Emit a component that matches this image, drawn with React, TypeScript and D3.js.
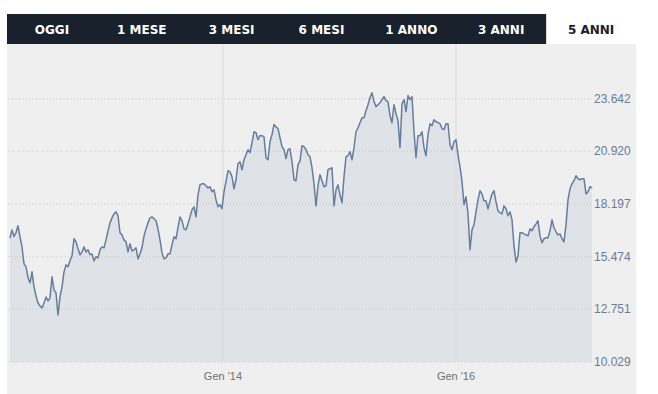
import React from "react";
import * as d3 from "d3";

// period tabs above the chart
const tabs = ["OGGI", "1 MESE", "3 MESI", "6 MESI", "1 ANNO", "3 ANNI", "5 ANNI"];
const activeTab = "5 ANNI";

// closing values, sampled at regular intervals between the two dates
const startDate = "2012-03-05";
const endDate = "2017-03-02";
const closes = [
  16430, 16860, 16520, 16710, 17070, 16500, 15980, 15100, 14960, 14380,
  14120, 14690, 13910, 13450, 13080, 12930, 12820, 13080, 13390, 13190,
  13340, 14430, 13760, 13600, 12460, 13390, 13910, 14690, 15050, 14950,
  15260, 15520, 16400, 16240, 15880, 15570, 15720, 15980, 15720, 15830,
  15570, 15620, 15260, 15470, 15410, 15830, 15980, 15930, 16340, 16810,
  17220, 17480, 17690, 17790, 17590, 16710, 16600, 16340, 16240, 15720,
  16140, 15770, 15830, 15930, 15360, 15620, 15930, 16550, 16910, 17220,
  17480, 17530, 17430, 17330, 16910, 16340, 15670, 15360, 15410, 15620,
  15620, 16090, 16500, 16400, 16970, 17530, 17330, 16910, 16860, 17170,
  17530, 17900, 18050, 17530, 18670, 19190, 19240, 19240, 19140, 19030,
  19090, 18830, 18930, 18410, 18050, 18160, 17950, 18830, 19350, 19920,
  19860, 19600, 18980, 19450, 20280, 20380, 19970, 20480, 20740, 21000,
  20850, 21370, 21930, 21880, 21520, 21730, 21730, 21670, 20590, 20480,
  21420, 21780, 22300, 22190, 22090, 21620, 21160, 21000, 20540, 21000,
  21050, 20380, 19450, 19400, 20230, 20430, 21210, 21160, 21000, 20740,
  20640, 20070, 19240, 18100, 19140, 19710, 19400, 19090, 19140, 19970,
  20020, 20070, 18100, 18930, 19190, 18670, 18260, 19600, 20640, 20690,
  20900, 20480, 21110, 21930, 22140, 22400, 22660, 22660, 23020, 23330,
  23690, 23950, 23490, 23230, 23330, 23430, 23590, 23750, 23540, 23490,
  22760, 22400, 23330, 22870, 22500, 21110, 23380, 23590, 22970, 23800,
  23590, 23750, 21930, 20590, 21730, 21730, 21930, 21110, 20690, 21780,
  22350, 22240, 22550, 22450, 22400, 22350, 22090, 22040, 22350, 22350,
  21260, 21000, 21420, 21520, 20740, 20120, 19350, 18160, 18570, 17690,
  15830, 16860, 17120, 17790, 18410, 18880, 18720, 18360, 18360, 17950,
  18360, 18720, 18880, 18310, 17840, 17740, 17690, 18100, 17950, 17590,
  17790, 17380, 16030, 15200, 15520, 16710, 16710, 16650, 16600, 16550,
  16910, 16810, 17020, 17170, 17330, 16550, 16190, 16400, 16450, 16450,
  16810, 17380, 16970, 16760, 16600, 16650, 16400, 16240, 17120, 18410,
  18980, 19240, 19400, 19660, 19500, 19450, 19500, 19500, 18720, 18830,
  19090, 19030,
];

const yTicks = [10029, 12751, 15474, 18197, 20920, 23642];
const xTicks = ["2014-01-01", "2016-01-01"];

const itNumber = d3.formatLocale({
  decimal: ",",
  thousands: ".",
  grouping: [3],
  currency: ["€", ""],
});
const itTime = d3.timeFormatLocale({
  dateTime: "%A %e %B %Y, %X",
  date: "%d/%m/%Y",
  time: "%H:%M:%S",
  periods: ["AM", "PM"],
  days: ["Domenica", "Lunedì", "Martedì", "Mercoledì", "Giovedì", "Venerdì", "Sabato"],
  shortDays: ["Dom", "Lun", "Mar", "Mer", "Gio", "Ven", "Sab"],
  months: ["Gennaio", "Febbraio", "Marzo", "Aprile", "Maggio", "Giugno", "Luglio", "Agosto", "Settembre", "Ottobre", "Novembre", "Dicembre"],
  shortMonths: ["Gen", "Feb", "Mar", "Apr", "Mag", "Giu", "Lug", "Ago", "Set", "Ott", "Nov", "Dic"],
});

const W = 658;
const H = 394;
const box = { left: 7, right: 636, tabTop: 14, tabBottom: 44 };
const plot = { left: 10, right: 592, top: 46, bottom: 362 };

export default function App() {
  const parse = d3.utcParse("%Y-%m-%d");
  const t0 = parse(startDate)!.getTime();
  const t1 = parse(endDate)!.getTime();
  const data = closes.map((v, i) => ({
    date: new Date(t0 + (i * (t1 - t0)) / (closes.length - 1)),
    value: v,
  }));

  const x = d3.scaleUtc().domain([new Date(t0), new Date(t1)]).range([plot.left, plot.right]);
  const step = yTicks[yTicks.length - 1] - yTicks[yTicks.length - 2];
  const y = d3
    .scaleLinear()
    .domain([yTicks[0], yTicks[yTicks.length - 1] + step])
    .range([plot.bottom, plot.top]);

  const tab = d3.scaleBand<string>().domain(tabs).range([box.left, box.right]);

  const lineGen = d3
    .line<{ date: Date; value: number }>()
    .x((d) => x(d.date))
    .y((d) => y(d.value));
  const areaGen = d3
    .area<{ date: Date; value: number }>()
    .x((d) => x(d.date))
    .y0(plot.bottom)
    .y1((d) => y(d.value));

  const fmtY = itNumber.format(",d");
  const fmtX = itTime.utcFormat("%b '%y");

  return (
    <svg
      width={W}
      height={H}
      style={{ position: "fixed", left: 0, top: 0, background: "#fff" }}
    >
      {/* tab bar */}
      <rect
        x={box.left}
        y={box.tabTop}
        width={tab(activeTab)! - box.left}
        height={box.tabBottom - box.tabTop}
        fill="#19212d"
      />
      {tabs.map((t) => (
        <text
          key={t}
          x={tab(t)! + tab.bandwidth() / 2}
          y={34}
          textAnchor="middle"
          fontFamily="'DejaVu Sans', sans-serif"
          fontWeight="bold"
          fontSize={12}
          fill={t === activeTab ? "#19212d" : "#fff"}
        >
          {t}
        </text>
      ))}

      {/* chart panel */}
      <rect x={box.left} y={box.tabBottom} width={box.right - box.left} height={H - box.tabBottom} fill="#efefef" />

      <path d={areaGen(data)!} fill="#dfe2e6" />

      {yTicks.map((t) => (
        <line
          key={t}
          x1={8}
          x2={plot.right}
          y1={y(t)}
          y2={y(t)}
          stroke="#c9c9c9"
          strokeDasharray="1,2"
        />
      ))}
      {xTicks.map((d) => (
        <line
          key={d}
          x1={x(parse(d)!)}
          x2={x(parse(d)!)}
          y1={box.tabBottom}
          y2={plot.bottom}
          stroke="#dadada"
        />
      ))}

      <path d={lineGen(data)!} fill="none" stroke="#657e9f" strokeWidth={1.5} strokeLinejoin="round" />

      {yTicks.map((t) => (
        <text
          key={t}
          x={594}
          y={y(t) + 4}
          fontFamily="'Liberation Sans', Arial, sans-serif"
          fontSize={12}
          fill="#6a7b96"
        >
          {fmtY(t)}
        </text>
      ))}
      {xTicks.map((d) => (
        <text
          key={d}
          x={x(parse(d)!)}
          y={380}
          textAnchor="middle"
          fontFamily="'Liberation Sans', Arial, sans-serif"
          fontSize={11}
          fill="#707070"
        >
          {fmtX(parse(d)!)}
        </text>
      ))}
    </svg>
  );
}
